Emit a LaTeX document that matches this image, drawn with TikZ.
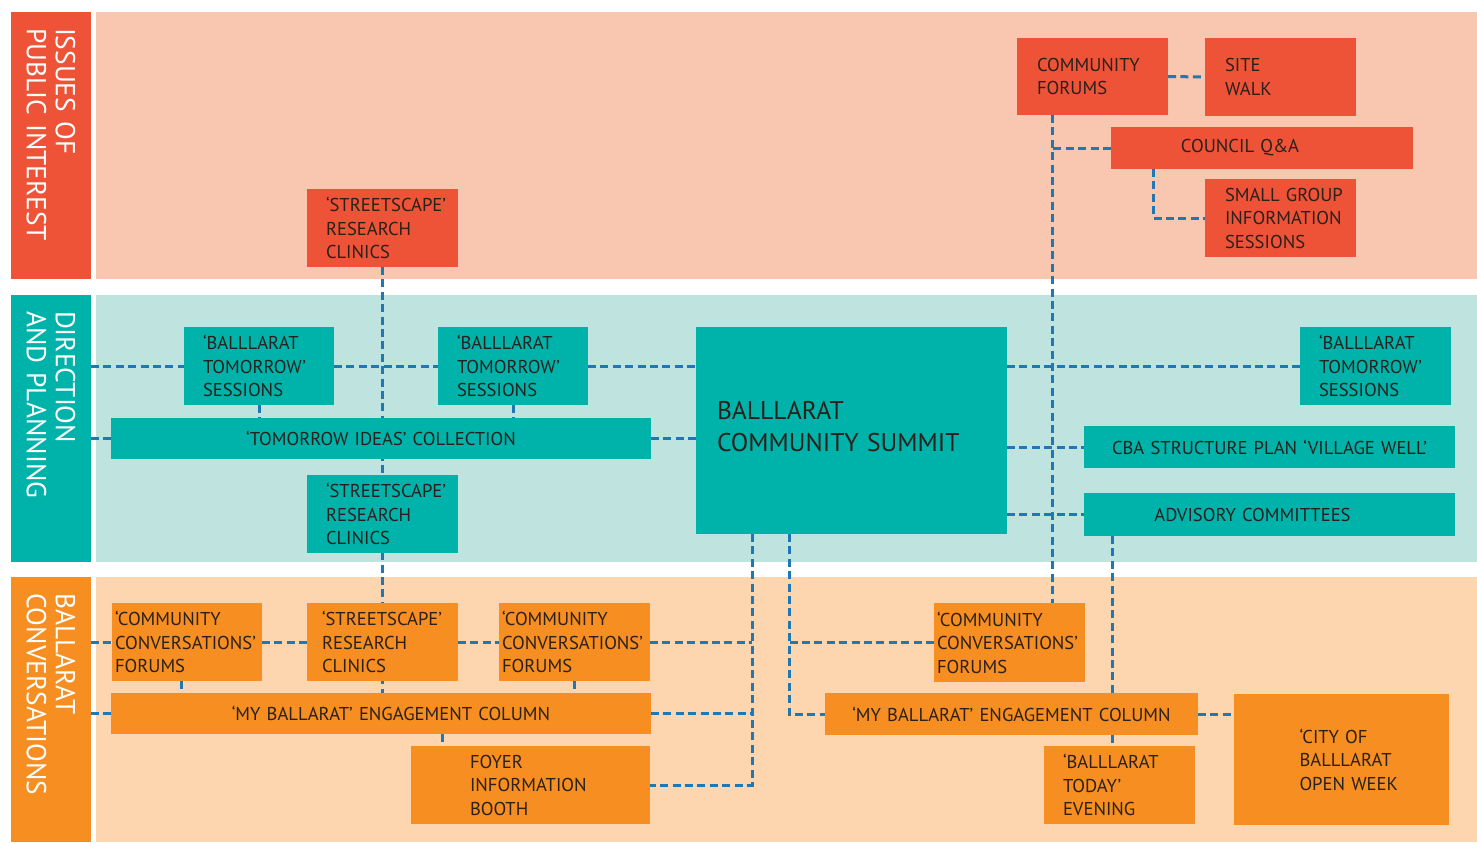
\documentclass[tikz,border=0pt]{standalone}
\usepackage{fontspec}
\setmainfont{PT Sans}
\hyphenpenalty=10000
\uchyph=0

\definecolor{issuered}{HTML}{EE5337}
\definecolor{issuebg}{HTML}{F9C6AF}
\definecolor{planteal}{HTML}{00B3AA}
\definecolor{planbg}{HTML}{BFE4E0}
\definecolor{talkorange}{HTML}{F68E21}
\definecolor{talkbg}{HTML}{FDD6AF}
\definecolor{linkblue}{HTML}{1F77B4}
\definecolor{ink}{HTML}{2A201C}

\newcommand{\boxfont}{\fontsize{9.3}{11.75}\selectfont}
\newcommand{\summitfont}{\fontsize{12.8}{16}\selectfont}
\newcommand{\bandfont}{\fontsize{13.7}{14.5}\selectfont}

\pgfdeclarelayer{bands}
\pgfdeclarelayer{wires}
\pgfsetlayers{bands,wires,main}

\begin{document}
\begin{tikzpicture}[x=0.5pt, y=-0.5pt,
    box/.style={anchor=north west, inner ysep=0pt, outer sep=0pt, align=left, text=ink, font=\boxfont},
    issue/.style={box, fill=issuered},
    plan/.style={box, fill=planteal},
    talk/.style={box, fill=talkorange},
    bandlabel/.style={anchor=north west, rotate=-90, outer sep=0pt, inner xsep=8pt,
      minimum height=40pt, align=left, text=white, font=\bandfont},
    link/.style={draw=linkblue, line width=1.5pt, dash pattern=on 4pt off 2.2pt}]
  \useasboundingbox (0,0) rectangle (1477,842);

  \begin{pgfonlayer}{bands}
    \fill[issuebg] (96,12) rectangle (1477,279);
    \fill[planbg] (96,295) rectangle (1477,562);
    \fill[talkbg] (96,577) rectangle (1477,842);
  \end{pgfonlayer}

  \node[bandlabel, fill=issuered, minimum width=133.5pt, text width=117.5pt] (iplabel) at (91,12) {ISSUES OF\\PUBLIC INTEREST};
  \node[bandlabel, fill=planteal, minimum width=133.5pt, text width=117.5pt] (dplabel) at (91,295) {DIRECTION\\AND PLANNING};
  \node[bandlabel, fill=talkorange, minimum width=132.5pt, text width=116.5pt] (bclabel) at (91,577) {BALLARAT\\CONVERSATIONS};

  % issues of public interest
  \node[issue, inner xsep=10pt, text width=55.5pt, minimum height=38.5pt] (cforum) at (1017,38) {COMMUNITY\\FORUMS};
  \node[issue, inner xsep=10pt, text width=55.5pt, minimum height=39pt] (swalk) at (1205,38) {SITE\\WALK};
  \node[issue, inner xsep=10pt, text width=131pt, minimum height=21pt, align=center] (qa) at (1111,127) {COUNCIL Q\&A\hspace*{22pt}};
  \node[issue, inner xsep=10pt, text width=55.5pt, minimum height=39pt] (sgroup) at (1205,179) {SMALL~GROUP\\INFORMATION\\SESSIONS};
  \node[issue, inner xsep=9.5pt, text width=56.5pt, minimum height=39pt] (sstop) at (307,189) {`STREETSCAPE'\\RESEARCH\\CLINICS};

  % direction and planning
  \node[plan, inner xsep=9.5pt, text width=56pt, minimum height=39pt] (btone) at (184,327) {`BALLLARAT\\TOMORROW'\\SESSIONS};
  \node[plan, inner xsep=9.5pt, text width=56pt, minimum height=39pt] (bttwo) at (438,327) {`BALLLARAT\\TOMORROW'\\SESSIONS};
  \node[plan, inner xsep=9.5pt, text width=56.5pt, minimum height=39pt] (btthree) at (1300,327) {`BALLLARAT\\TOMORROW'\\SESSIONS};
  \node[plan, inner xsep=10pt, text width=250pt, minimum height=20.5pt, align=center] (ideas) at (111,418) {`TOMORROW IDEAS' COLLECTION};
  \node[plan, inner xsep=9.5pt, text width=56.5pt, minimum height=39pt] (ssmid) at (307,475) {`STREETSCAPE'\\RESEARCH\\CLINICS};
  \node[plan, inner xsep=10.5pt, text width=134.5pt, minimum height=103.5pt, text depth=20pt, font=\summitfont] (summit) at (696,327) {BALLLARAT\\COMMUNITY~SUMMIT};
  \node[plan, inner xsep=10pt, text width=165.5pt, minimum height=21pt, align=center] (cba) at (1084,426) {CBA STRUCTURE PLAN `VILLAGE WELL'};
  \node[plan, inner xsep=10pt, text width=165.5pt, minimum height=21.5pt, align=center] (advisory) at (1084,493) {ADVISORY COMMITTEES\hspace*{17pt}};

  % ballarat conversations
  \node[talk, inner xsep=1.5pt, text width=72pt, minimum height=39pt] (ccone) at (112,603) {`COMMUNITY\\CONVERSATIONS'\\FORUMS};
  \node[talk, inner xsep=7.5pt, text width=60.5pt, minimum height=39pt] (ssbot) at (307,603) {`STREETSCAPE'\\RESEARCH\\CLINICS};
  \node[talk, inner xsep=1.5pt, text width=72.5pt, minimum height=39pt] (cctwo) at (499,603) {`COMMUNITY\\CONVERSATIONS'\\FORUMS};
  \node[talk, inner xsep=10pt, text width=250pt, minimum height=20.5pt, align=center] (mybone) at (111,693) {\hspace*{10pt}`MY BALLARAT' ENGAGEMENT COLUMN};
  \node[talk, inner xsep=29.5pt, text width=60.5pt, minimum height=39pt] (foyer) at (411,746) {FOYER\\INFORMATION\\BOOTH};
  \node[talk, inner xsep=1.5pt, text width=72.5pt, minimum height=39.5pt] (ccthree) at (934,603) {`COMMUNITY\\CONVERSATIONS'\\FORUMS};
  \node[talk, inner xsep=10pt, text width=166.5pt, minimum height=21pt, align=center] (mybtwo) at (825,693) {`MY BALLARAT' ENGAGEMENT COLUMN};
  \node[talk, inner xsep=9.5pt, text width=56.5pt, minimum height=39pt] (today) at (1044,746) {`BALLLARAT\\TODAY'\\EVENING};
  \node[talk, inner xsep=29.75pt, text width=48pt, minimum height=65.5pt] (city) at (1234,694) {\hspace*{3pt}`CITY~OF\\\hspace*{3pt}BALLLARAT\\\hspace*{3pt}OPEN~WEEK};

  \coordinate (spine) at (1052,0);
  \coordinate (qadrop) at (1153,0);
  \coordinate (advdrop) at (1112,0);
  \coordinate (trunk) at (752,0);
  \coordinate (branch) at (789,0);
  \coordinate (ccdrop) at (181,0);
  \coordinate (foyerdrop) at (442,0);

  \begin{pgfonlayer}{wires}
    \draw[link] (cforum.east) -- (swalk.west);
    \draw[link] (cforum.south -| spine) -- (ccthree.north -| spine);
    \draw[link] (qa.west) -- (qa.west -| spine);
    \draw[link] (qa.south -| qadrop) |- (sgroup.west);
    \draw[link] (sstop.south) -- (sstop.south |- mybone.north);

    \draw[link] (dplabel.north |- btone.west) -- (btone.west);
    \draw[link] (btone.east) -- (bttwo.west);
    \draw[link] (bttwo.east) -- (summit.west |- bttwo.east);
    \draw[link] (summit.east |- btthree.west) -- (btthree.west);
    \draw[link] (dplabel.north |- ideas.west) -- (ideas.west);
    \draw[link] (ideas.east) -- (summit.west |- ideas.east);
    \draw[link] (btone.south) -- (btone.south |- ideas.north);
    \draw[link] (bttwo.south) -- (bttwo.south |- ideas.north);
    \draw[link] (summit.east |- cba.west) -- (cba.west);
    \draw[link] (summit.east |- advisory.west) -- (advisory.west);
    \draw[link] (advisory.south -| advdrop) -- (mybtwo.north -| advdrop);
    \draw[link] (mybtwo.south -| advdrop) -- (today.north -| advdrop);

    \draw[link] (summit.south -| trunk) |- (foyer.east);
    \draw[link] (cctwo.east) -- (cctwo.east -| trunk);
    \draw[link] (mybone.east) -- (mybone.east -| trunk);
    \draw[link] (summit.south -| branch) |- (mybtwo.west);
    \draw[link] (ccthree.west) -- (ccthree.west -| branch);
    \draw[link] (mybtwo.east) -- (mybtwo.east -| city.west);

    \draw[link] (bclabel.north |- ccone.west) -- (ccone.west);
    \draw[link] (ccone.east) -- (ssbot.west);
    \draw[link] (ssbot.east) -- (cctwo.west);
    \draw[link] (bclabel.north |- mybone.west) -- (mybone.west);
    \draw[link] (ccone.south -| ccdrop) -- (mybone.north -| ccdrop);
    \draw[link] (cctwo.south) -- (cctwo.south |- mybone.north);
    \draw[link] (mybone.south -| foyerdrop) -- (foyer.north -| foyerdrop);
  \end{pgfonlayer}
\end{tikzpicture}
\end{document}
